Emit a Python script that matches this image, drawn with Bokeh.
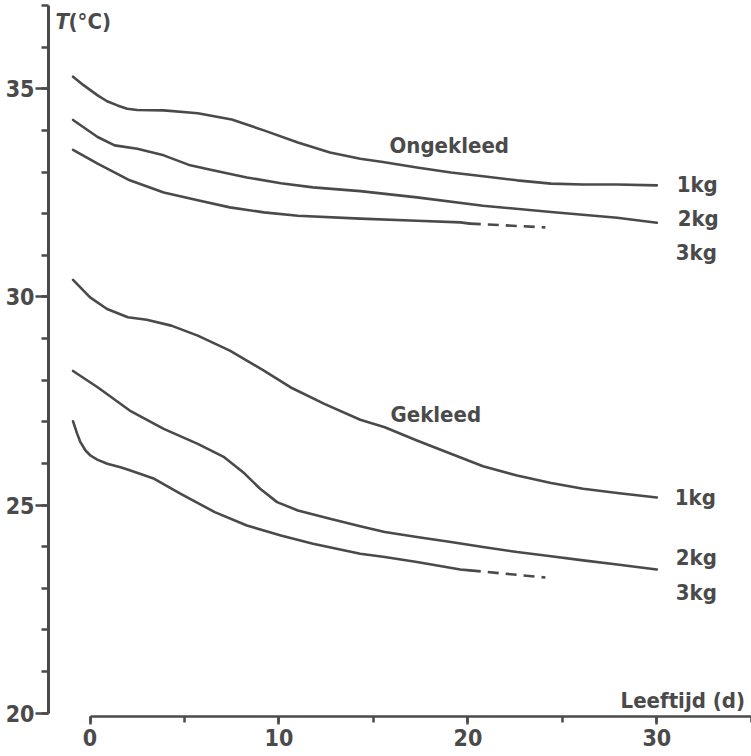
from bokeh.plotting import figure
from bokeh.models import Range1d, FixedTicker, Label
from bokeh.embed import file_html
from bokeh.resources import INLINE

# ---- data (age in days, temperature in degC) ----
ong1_x = [-0.9, -0.33, 0.4, 0.9, 1.45, 1.96, 2.5, 3.9, 5.7, 7.5, 9.2, 11.0, 12.7, 14.3, 15.5, 17.3, 19.1, 20.8, 22.6, 24.4, 26.1, 27.9, 30.0]
ong1_t = [35.29, 35.08, 34.84, 34.70, 34.60, 34.52, 34.49, 34.48, 34.41, 34.26, 34.00, 33.71, 33.47, 33.32, 33.24, 33.11, 32.99, 32.90, 32.80, 32.72, 32.70, 32.70, 32.68]

ong2_x = [-0.9, 0.4, 1.3, 2.5, 3.9, 5.3, 6.5, 8.3, 10.1, 11.8, 14.3, 17.3, 20.8, 24.4, 27.9, 30.0]
ong2_t = [34.25, 33.84, 33.64, 33.56, 33.40, 33.16, 33.04, 32.87, 32.73, 32.63, 32.54, 32.39, 32.19, 32.04, 31.90, 31.78]

ong3_x = [-0.9, 0.4, 2.1, 3.9, 5.7, 7.4, 9.2, 11.0, 14.3, 17.3, 19.6, 20.1]
ong3_t = [33.53, 33.20, 32.80, 32.51, 32.32, 32.15, 32.03, 31.95, 31.88, 31.83, 31.79, 31.76]
ong3_dash_x = [20.1, 24.1]
ong3_dash_t = [31.76, 31.67]

gek1_x = [-0.9, 0.0, 0.9, 2.0, 3.0, 4.3, 5.7, 7.4, 9.2, 10.6, 12.4, 14.3, 15.6, 17.3, 19.1, 20.8, 22.6, 24.4, 26.1, 27.9, 30.0]
gek1_t = [30.41, 29.99, 29.71, 29.51, 29.45, 29.31, 29.07, 28.71, 28.23, 27.83, 27.43, 27.05, 26.87, 26.55, 26.23, 25.93, 25.71, 25.53, 25.39, 25.29, 25.18]

gek2_x = [-0.9, 0.4, 2.1, 3.9, 5.7, 7.1, 8.1, 9.0, 9.9, 11.0, 12.7, 14.3, 15.6, 17.3, 19.1, 20.8, 22.6, 24.4, 26.1, 27.9, 30.0]
gek2_t = [28.22, 27.83, 27.27, 26.83, 26.47, 26.15, 25.79, 25.39, 25.07, 24.87, 24.67, 24.49, 24.35, 24.23, 24.11, 23.99, 23.87, 23.77, 23.67, 23.57, 23.45]

gek3_x = [-0.9, -0.68, -0.51, -0.24, 0.02, 0.38, 0.91, 1.61, 2.14, 3.4, 4.8, 6.6, 8.3, 10.1, 11.8, 14.3, 15.6, 17.3, 19.6, 20.1]
gek3_t = [27.01, 26.71, 26.51, 26.31, 26.19, 26.09, 25.99, 25.91, 25.83, 25.63, 25.27, 24.83, 24.51, 24.27, 24.07, 23.83, 23.75, 23.63, 23.45, 23.43]
gek3_dash_x = [20.1, 24.1]
gek3_dash_t = [23.43, 23.26]

x_major = [0, 10, 20, 30]
x_minor = [0, 5, 10, 15, 20, 25, 30, 35]
y_major = [20, 25, 30, 35]
y_minor = list(range(20, 38))

label_texts = ["Ongekleed", "Gekleed", "1kg", "2kg", "3kg", "1kg", "2kg", "3kg"]
label_x = [15.85, 15.9, 31.05, 31.1, 31.0, 30.95, 31.0, 31.0]
label_y = [33.64, 27.17, 32.71, 31.89, 31.07, 25.19, 23.75, 22.89]

INK = "#4a4a4a"
FONT = "DejaVu Sans Condensed, DejaVu Sans"
FS = "22px"
TICK_FS = "23px"

p = figure(width=751, height=756, output_backend="svg", toolbar_location=None,
           x_range=Range1d(-2.2, 35.01), y_range=Range1d(19.92, 37.12),
           min_border_left=48, min_border_right=0, min_border_top=0, min_border_bottom=40)
p.outline_line_color = None
p.grid.visible = False
p.background_fill_color = "white"
p.border_fill_color = "white"

# axes
xa = p.xaxis[0]
xa.bounds = (0, 35)
xa.ticker = FixedTicker(ticks=x_major, minor_ticks=x_minor)
xa.major_tick_out = 8
xa.major_tick_in = 0
xa.minor_tick_out = 6
xa.minor_tick_in = 0
xa.major_label_standoff = 4
xa.axis_line_width = 2.5
xa.major_tick_line_width = 2.5
xa.minor_tick_line_width = 2.5
xa.axis_line_color = INK
xa.major_tick_line_color = INK
xa.minor_tick_line_color = INK
xa.major_label_text_font = FONT
xa.major_label_text_font_style = "bold"
xa.major_label_text_font_size = TICK_FS
xa.major_label_text_color = INK

ya = p.yaxis[0]
ya.bounds = (20, 37)
ya.ticker = FixedTicker(ticks=y_major, minor_ticks=y_minor)
ya.major_tick_out = 13
ya.major_tick_in = 0
ya.minor_tick_out = 7
ya.minor_tick_in = 0
ya.major_label_standoff = 1
ya.axis_line_width = 3
ya.major_tick_line_width = 2.5
ya.minor_tick_line_width = 2.5
ya.axis_line_color = INK
ya.major_tick_line_color = INK
ya.minor_tick_line_color = INK
ya.major_label_text_font = FONT
ya.major_label_text_font_style = "bold"
ya.major_label_text_font_size = TICK_FS
ya.major_label_text_color = INK

# curves
LW = 2.6
for xs, ts in [(ong1_x, ong1_t), (ong2_x, ong2_t), (ong3_x, ong3_t),
               (gek1_x, gek1_t), (gek2_x, gek2_t), (gek3_x, gek3_t)]:
    p.line(xs, ts, line_color=INK, line_width=LW, line_join="round", line_cap="round")
for xs, ts in [(ong3_dash_x, ong3_dash_t), (gek3_dash_x, gek3_dash_t)]:
    p.line(xs, ts, line_color=INK, line_width=LW, line_dash="11 7")

# text labels
for t, x, y in zip(label_texts, label_x, label_y):
    p.add_layout(Label(x=x, y=y, text=t, text_font=FONT, text_font_style="bold",
                       text_font_size=FS, text_color=INK, text_baseline="alphabetic"))

p.add_layout(Label(x=-1.83, y=36.62, text="T", text_font=FONT, text_font_style="bold italic",
                   text_font_size=FS, text_color=INK, text_baseline="alphabetic"))
p.add_layout(Label(x=-1.14, y=36.62, text="(°C)", text_font=FONT, text_font_style="bold",
                   text_font_size=FS, text_color=INK, text_baseline="alphabetic"))
p.add_layout(Label(x=28.08, y=20.3, text="Leeftijd (d)", text_font=FONT, text_font_style="bold",
                   text_font_size=FS, text_color=INK, text_baseline="alphabetic"))

open("out.html", "w").write(file_html(p, INLINE))
